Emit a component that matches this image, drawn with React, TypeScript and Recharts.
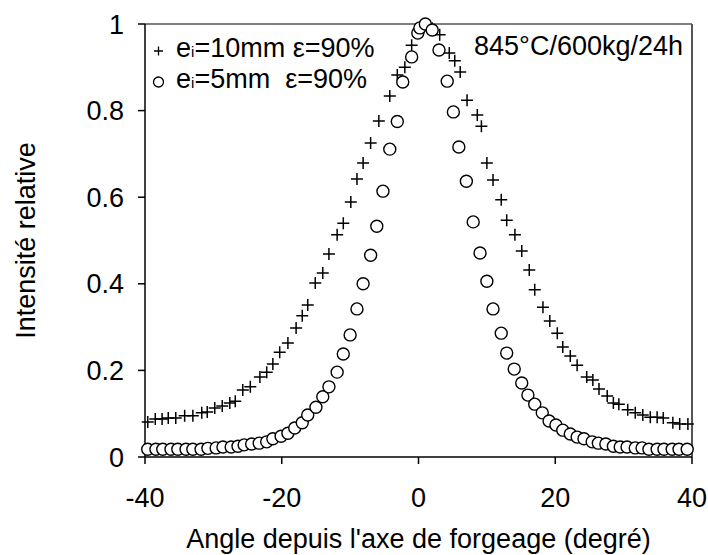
import React from "react";
import { ScatterChart, Scatter, XAxis, YAxis, ReferenceLine } from "recharts";

// e_i = 10 mm (crosses)
const angles10mm = [
  -39.6, -38.5, -37.5, -36.6, -35.5, -34.2, -33.0, -31.7, -30.9, -29.8,
  -28.7, -27.6, -26.8, -25.7, -24.6, -23.2, -22.2, -21.3, -20.3, -19.1,
  -17.9, -17.0, -16.2, -15.1, -14.0, -13.1, -11.9, -11.0, -9.9, -9.0,
  -8.1, -7.0, -5.8, -4.2, -3.1, -2.0, -1.0, 0.0, 1.0, 2.0,
  3.1, 4.5, 5.3, 6.1, 7.1, 8.6, 9.2, 10.0, 10.9, 12.1,
  12.9, 14.1, 15.1, 16.2, 17.0, 18.2, 19.2, 20.3, 21.1, 22.2,
  23.2, 24.6, 25.5, 26.4, 27.6, 28.5, 29.3, 30.6, 31.7, 32.8,
  33.9, 34.9, 35.8, 37.2, 38.2, 39.4
];
const intensity10mm = [
  0.081, 0.088, 0.088, 0.09, 0.09, 0.095, 0.095, 0.102, 0.104, 0.113,
  0.118, 0.125, 0.129, 0.155, 0.162, 0.185, 0.196, 0.215, 0.242, 0.263,
  0.298, 0.326, 0.351, 0.402, 0.425, 0.469, 0.513, 0.54, 0.589, 0.642,
  0.679, 0.725, 0.776, 0.834, 0.882, 0.9, 0.951, 0.98, 1.0, 0.99,
  0.975, 0.933, 0.915, 0.889, 0.824, 0.79, 0.764, 0.679, 0.64, 0.594,
  0.547, 0.513, 0.476, 0.432, 0.386, 0.346, 0.314, 0.286, 0.254, 0.233,
  0.212, 0.185, 0.178, 0.157, 0.141, 0.125, 0.122, 0.109, 0.102, 0.097,
  0.092, 0.092, 0.09, 0.079, 0.076, 0.076
];

// e_i = 5 mm (circles)
const angles5mm = [
  -39.6, -38.4, -37.4, -36.2, -35.2, -34.0, -33.0, -31.8, -30.8, -29.6,
  -28.6, -27.4, -26.4, -25.5, -24.4, -23.3, -22.2, -21.3, -20.1, -19.1,
  -18.1, -17.0, -16.2, -15.0, -14.0, -13.1, -11.9, -11.0, -10.0, -9.0,
  -8.1, -7.0, -6.1, -5.2, -4.2, -3.1, -2.3, -1.0, -0.1, 0.2,
  1.0, 2.0, 3.0, 4.2, 5.1, 5.9, 7.0, 8.0, 9.0, 10.0,
  10.9, 12.1, 12.9, 14.0, 15.1, 16.0, 17.0, 18.1, 19.1, 20.1,
  21.1, 22.2, 23.2, 24.2, 25.4, 26.3, 27.4, 28.5, 29.5, 30.5,
  31.7, 32.7, 33.7, 34.9, 35.9, 37.1, 38.1, 39.3
];
const intensity5mm = [
  0.018, 0.018, 0.018, 0.018, 0.018, 0.018, 0.018, 0.018, 0.02, 0.021,
  0.023, 0.023, 0.025, 0.028, 0.03, 0.032, 0.035, 0.042, 0.048, 0.055,
  0.067, 0.079, 0.097, 0.115, 0.139, 0.162, 0.196, 0.238, 0.282, 0.342,
  0.4, 0.466, 0.533, 0.614, 0.711, 0.775, 0.866, 0.924, 0.979, 0.991,
  1.0, 0.986, 0.94, 0.868, 0.797, 0.716, 0.637, 0.543, 0.471, 0.406,
  0.342, 0.286, 0.24, 0.203, 0.171, 0.143, 0.122, 0.102, 0.083, 0.074,
  0.062, 0.053, 0.046, 0.042, 0.035, 0.032, 0.03, 0.025, 0.023, 0.023,
  0.021, 0.021, 0.018, 0.018, 0.018, 0.018, 0.018, 0.018
];

const xTicks = [-40, -20, 0, 20, 40];
const xMinorTicks = [-35, -30, -25, -20, -15, -10, -5, 0, 5, 10, 15, 20, 25, 30, 35];
const yTicks = [0, 0.2, 0.4, 0.6, 0.8, 1];
const yMinorTicks = [0.1, 0.2, 0.3, 0.4, 0.5, 0.6, 0.7, 0.8, 0.9];

const FONT = "'Liberation Sans', Arial, Helvetica, sans-serif";
const FS = 27;

const data10 = angles10mm.map((a, i) => ({ angle: a, intensity: intensity10mm[i] }));
const data5 = angles5mm.map((a, i) => ({ angle: a, intensity: intensity5mm[i] }));

const Cross = (p: any) => (
  <path
    d={`M${p.cx - 6},${p.cy}H${p.cx + 6}M${p.cx},${p.cy - 6}V${p.cy + 6}`}
    stroke="#000"
    strokeWidth={1.5}
    fill="none"
  />
);

const Ring = (p: any) => (
  <circle cx={p.cx} cy={p.cy} r={6} fill="#fff" stroke="#000" strokeWidth={1.4} />
);

const axisStroke = { stroke: "#000", strokeWidth: 1.5 };
const tickStyle = { fill: "#000", fontSize: FS, fontFamily: FONT };

export default function App() {
  return (
    <div
      style={{
        position: "absolute",
        left: 0,
        top: 0,
        width: 708,
        height: 555,
        background: "#fff",
        fontFamily: FONT
      }}
    >
      <ScatterChart width={708} height={555} margin={{ top: 24, right: 16, bottom: 0, left: 0 }}>
        <XAxis
          type="number"
          dataKey="angle"
          domain={[-40, 40]}
          ticks={xTicks}
          interval={0}
          height={98}
          tickSize={7}
          tickMargin={24}
          axisLine={axisStroke}
          tickLine={axisStroke}
          tick={tickStyle}
          label={{
            value: "Angle depuis l'axe de forgeage (degré)",
            position: "insideBottom",
            offset: 7,
            fill: "#000",
            fontSize: FS,
            fontFamily: FONT
          }}
        />
        <XAxis
          xAxisId="minor"
          type="number"
          domain={[-40, 40]}
          ticks={xMinorTicks}
          interval={0}
          mirror
          tickSize={7}
          axisLine={false}
          tickLine={axisStroke}
          tick={() => <g />}
        />
        <YAxis
          type="number"
          dataKey="intensity"
          domain={[0, 1]}
          ticks={yTicks}
          interval={0}
          width={145}
          tickSize={7}
          tickMargin={14}
          axisLine={axisStroke}
          tickLine={axisStroke}
          tick={tickStyle}
          label={{
            value: "Intensité relative",
            angle: -90,
            position: "insideLeft",
            offset: 25,
            fill: "#000",
            fontSize: FS,
            fontFamily: FONT,
            style: { textAnchor: "middle" }
          }}
        />
        <YAxis
          yAxisId="minor"
          type="number"
          domain={[0, 1]}
          ticks={yMinorTicks}
          interval={0}
          mirror
          tickSize={7}
          axisLine={false}
          tickLine={axisStroke}
          tick={() => <g />}
        />
        <ReferenceLine y={1} stroke="#555" strokeWidth={1.5} />
        <ReferenceLine x={40} stroke="#555" strokeWidth={2} />
        <Scatter data={data10} shape={Cross} isAnimationActive={false} />
        <Scatter data={data5} shape={Ring} isAnimationActive={false} />
      </ScatterChart>
      <svg
        width={708}
        height={555}
        style={{ position: "absolute", left: 0, top: 0, pointerEvents: "none" }}
        fontFamily={FONT}
        fontSize={FS}
        fill="#000"
      >
        <path d="M154,51H163M158.5,46.5V55.5" stroke="#000" strokeWidth={1.3} />
        <text x={176} y={57}>
          e<tspan fontSize={15}>i</tspan>=10mm ε=90%
        </text>
        <circle cx={158.5} cy={82} r={5} fill="#fff" stroke="#000" strokeWidth={1.3} />
        <text x={176} y={88}>
          e<tspan fontSize={15}>i</tspan>=5mm{"\u00a0 "}ε=90%
        </text>
        <text x={683} y={55} textAnchor="end">
          845°C/600kg/24h
        </text>
      </svg>
    </div>
  );
}
